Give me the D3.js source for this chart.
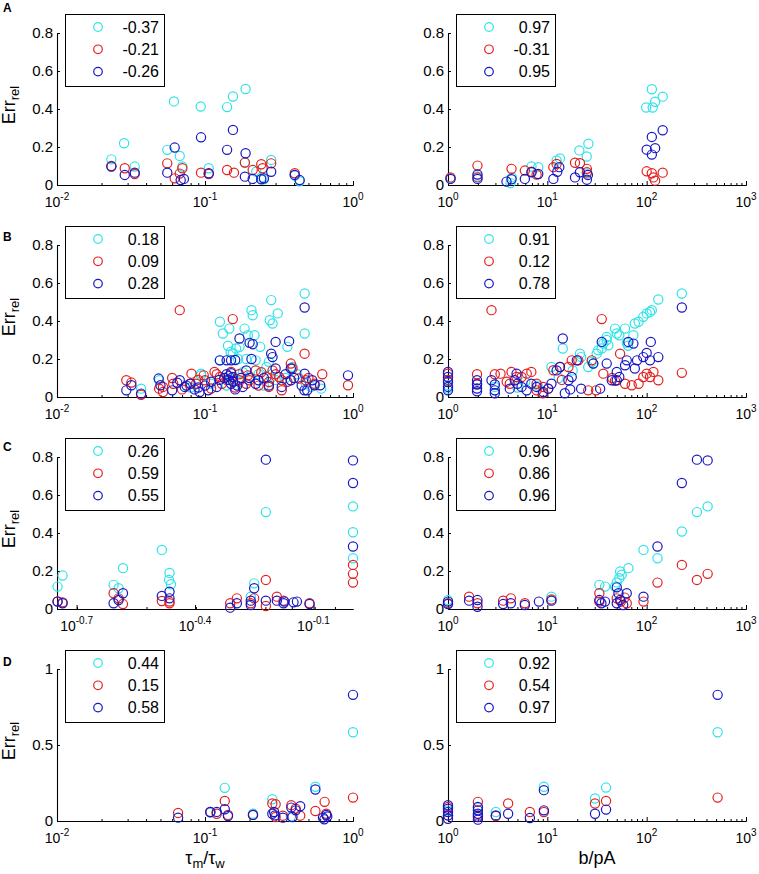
<!DOCTYPE html>
<html>
<head>
<meta charset="utf-8">
<script src="https://cdn.jsdelivr.net/npm/d3@7"></script>
<style>
  body { margin: 0; background: #fff; }
  text { font-family: "Liberation Sans", Arial, Helvetica, sans-serif; }
</style>
</head>
<body>
<svg id="chart" width="759" height="874"></svg>
<script>
// ---- data: [x, y] pairs per series ----
// row A
const aTauCyan = [[0.0233,0.135],[0.0284,0.22],[0.0335,0.097],[0.0556,0.185],[0.0617,0.44],[0.0675,0.153],[0.0703,0.097],[0.0935,0.413],[0.106,0.088],[0.141,0.41],[0.1545,0.466],[0.188,0.505],[0.186,0.118],[0.222,0.07],[0.28,0.132],[0.436,0.02],[0.24,0.04],[0.25,0.03],[0.404,0.05]];
const aTauRed = [[0.0233,0.1],[0.0287,0.088],[0.0335,0.058],[0.0556,0.114],[0.0624,0.035],[0.0675,0.06],[0.0703,0.088],[0.094,0.065],[0.106,0.058],[0.141,0.079],[0.157,0.065],[0.186,0.118],[0.21,0.079],[0.24,0.109],[0.245,0.088],[0.28,0.114],[0.404,0.062]];
const aTauBlue = [[0.0233,0.097],[0.0287,0.053],[0.0335,0.065],[0.0556,0.065],[0.0624,0.197],[0.0685,0.026],[0.072,0.032],[0.094,0.251],[0.106,0.062],[0.141,0.185],[0.1545,0.29],[0.188,0.167],[0.186,0.044],[0.21,0.032],[0.24,0.03],[0.25,0.035],[0.28,0.07],[0.404,0.053],[0.436,0.026]];
const aBCyan = [[1.06,0.035],[1.98,0.045],[4.26,0.01],[4.4,0.04],[6.93,0.097],[8.1,0.094],[12.4,0.129],[13.4,0.14],[21,0.182],[25.9,0.217],[24.9,0.15],[25,0.06],[98.8,0.408],[112.7,0.504],[115,0.408],[121.7,0.438],[145,0.465]];
const aBRed = [[1.06,0.04],[1.98,0.102],[1.98,0.04],[4.36,0.085],[5.94,0.076],[6.93,0.07],[7.8,0.055],[11.5,0.094],[12.4,0.111],[19,0.117],[21.3,0.115],[25,0.085],[25,0.067],[100,0.072],[112.7,0.062],[117,0.04],[121.7,0.023],[145,0.065]];
const aBBlue = [[1.06,0.032],[1.98,0.055],[1.98,0.032],[3.88,0.018],[4.36,0.03],[5.94,0.032],[6.93,0.067],[8.1,0.058],[11.5,0.032],[12.6,0.07],[13.2,0.094],[19,0.04],[21.3,0.067],[25,0.028],[25.6,0.053],[100,0.186],[112.7,0.253],[121.7,0.194],[112.7,0.16],[145,0.288]];
// row B
const bTauCyan = [[0.037,0.044],[0.094,0.114],[0.126,0.396],[0.132,0.334],[0.146,0.36],[0.143,0.27],[0.154,0.228],[0.162,0.255],[0.167,0.2],[0.185,0.36],[0.195,0.325],[0.206,0.457],[0.21,0.43],[0.216,0.325],[0.236,0.264],[0.26,0.158],[0.28,0.51],[0.274,0.404],[0.286,0.387],[0.31,0.44],[0.36,0.264],[0.39,0.158],[0.471,0.545],[0.471,0.334],[0.52,0.053],[0.61,0.044],[0.149,0.237],[0.171,0.264],[0.22,0.193],[0.27,0.185],[0.126,0.193],[0.049,0.088],[0.48,0.07],[0.094,0.123],[0.3,0.09],[0.2,0.11],[0.17,0.08],[0.14,0.06],[0.11,0.07],[0.08,0.05],[0.25,0.06],[0.35,0.1],[0.42,0.12],[0.15,0.1],[0.18,0.13],[0.19,0.2],[0.23,0.12],[0.28,0.1]];
const bTauRed = [[0.0294,0.088],[0.0318,0.076],[0.037,0.012],[0.049,0.044],[0.052,0.026],[0.0675,0.457],[0.061,0.07],[0.081,0.123],[0.098,0.114],[0.126,0.105],[0.154,0.41],[0.171,0.088],[0.22,0.14],[0.26,0.105],[0.286,0.14],[0.317,0.105],[0.38,0.176],[0.39,0.15],[0.471,0.228],[0.48,0.088],[0.55,0.07],[0.62,0.12],[0.925,0.062],[0.087,0.07],[0.27,0.053],[0.33,0.035],[0.116,0.132],[0.15,0.132],[0.195,0.114],[0.052,0.053],[0.079,0.07],[0.1,0.088],[0.2,0.088],[0.27,0.079],[0.33,0.088],[0.43,0.097],[0.13,0.07],[0.16,0.05],[0.07,0.04],[0.11,0.045],[0.23,0.06],[0.06,0.1],[0.09,0.09],[0.12,0.12],[0.14,0.09],[0.17,0.12],[0.19,0.07],[0.24,0.13],[0.3,0.12],[0.36,0.08],[0.5,0.1]];
const bTauBlue = [[0.0294,0.035],[0.0318,0.062],[0.037,0.018],[0.0486,0.097],[0.05,0.062],[0.06,0.035],[0.0675,0.088],[0.073,0.053],[0.092,0.026],[0.126,0.193],[0.14,0.193],[0.15,0.193],[0.16,0.195],[0.171,0.308],[0.2,0.285],[0.21,0.278],[0.206,0.2],[0.28,0.228],[0.286,0.21],[0.3,0.29],[0.37,0.294],[0.38,0.15],[0.471,0.471],[0.471,0.123],[0.49,0.035],[0.925,0.114],[0.55,0.062],[0.33,0.053],[0.154,0.105],[0.145,0.09],[0.15,0.07],[0.19,0.14],[0.3,0.15],[0.38,0.088],[0.47,0.035],[0.53,0.088],[0.6,0.062],[0.18,0.053],[0.23,0.088],[0.12,0.053],[0.105,0.035],[0.085,0.04],[0.08,0.07],[0.14,0.12],[0.16,0.04],[0.25,0.1],[0.065,0.075],[0.075,0.06],[0.09,0.05],[0.1,0.06],[0.11,0.08],[0.125,0.09],[0.135,0.1],[0.145,0.11],[0.15,0.125],[0.155,0.08],[0.165,0.06],[0.175,0.1],[0.2,0.1],[0.22,0.07],[0.27,0.06],[0.35,0.12],[0.4,0.1],[0.45,0.06]];
const bBCyan = [[1,0.044],[1,0.062],[1.96,0.07],[2.96,0.053],[11,0.158],[14.3,0.255],[21.3,0.228],[21.9,0.21],[25.8,0.158],[29,0.176],[31.4,0.228],[32.5,0.246],[35.3,0.255],[36.6,0.281],[39.6,0.3],[41.1,0.272],[48,0.36],[50,0.334],[53,0.325],[60.6,0.36],[63,0.285],[73.5,0.325],[76,0.387],[83,0.396],[92.5,0.422],[100,0.44],[108,0.448],[112.7,0.457],[131,0.513],[226,0.545],[28,0.185],[39.6,0.316],[65,0.27],[18,0.14],[8,0.06],[5,0.05],[13,0.1],[6,0.08]];
const bBRed = [[1,0.123],[1,0.09],[1.96,0.12],[1.96,0.07],[2.74,0.457],[2.96,0.12],[3.38,0.123],[4.19,0.07],[4.9,0.105],[5.5,0.105],[6.2,0.123],[6.9,0.132],[7.8,0.07],[9.1,0.053],[10.2,0.044],[11.5,0.141],[13.4,0.158],[16.3,0.158],[17.6,0.193],[20.5,0.193],[28,0.193],[31,0.035],[35.3,0.41],[36.6,0.123],[54,0.228],[60.6,0.07],[70.7,0.062],[83,0.07],[92.5,0.105],[100,0.123],[108,0.105],[117,0.132],[131,0.088],[226,0.127],[4.36,0.132],[7.8,0.035],[9,0.02],[25.8,0.035],[45,0.1],[48,0.085],[3.9,0.08],[14,0.09]];
const bBBlue = [[1,0.132],[1,0.105],[1,0.079],[1,0.053],[1,0.035],[1.96,0.088],[1.96,0.066],[1.96,0.045],[1.96,0.03],[2.74,0.088],[2.96,0.066],[2.96,0.035],[2.96,0.02],[4.19,0.044],[4.7,0.088],[4.9,0.123],[5,0.07],[5.5,0.053],[6.2,0.035],[6.9,0.07],[7.8,0.053],[9.1,0.026],[10.2,0.044],[11,0.07],[12.4,0.14],[13.4,0.158],[14.3,0.308],[16.3,0.088],[17.6,0.105],[19.8,0.193],[21.9,0.044],[29,0.176],[34,0.044],[35.3,0.29],[39.6,0.176],[44.5,0.088],[50,0.088],[50,0.132],[53,0.105],[60.6,0.167],[63,0.193],[65.4,0.29],[73.5,0.281],[76,0.15],[80,0.193],[92.5,0.21],[100,0.232],[110,0.29],[108,0.193],[131,0.21],[226,0.471],[17,0.04],[15,0.02]];
// row C
const cTauCyan = [[0.1786,0.118],[0.1839,0.176],[0.2476,0.127],[0.2549,0.109],[0.2615,0.215],[0.328,0.311],[0.343,0.19],[0.342,0.153],[0.346,0.13],[0.551,0.065],[0.562,0.135],[0.6016,0.51],[1,0.54],[1,0.404],[1,0.267]];
const cTauRed = [[0.1786,0.04],[0.1839,0.035],[0.2476,0.083],[0.2549,0.056],[0.2615,0.026],[0.328,0.042],[0.343,0.039],[0.343,0.03],[0.4887,0.03],[0.508,0.056],[0.551,0.03],[0.562,0.056],[0.6016,0.153],[0.6016,0.016],[0.6415,0.065],[0.667,0.044],[0.7762,0.03],[1,0.232],[1,0.185],[1,0.139]];
const cTauBlue = [[0.1786,0.039],[0.1839,0.03],[0.2476,0.03],[0.2549,0.047],[0.2615,0.083],[0.328,0.069],[0.343,0.091],[0.343,0.056],[0.4887,0.007],[0.508,0.03],[0.551,0.044],[0.551,0.021],[0.562,0.109],[0.6016,0.786],[0.6016,0.044],[0.6415,0.044],[0.667,0.03],[0.67,0.039],[0.7068,0.035],[0.7211,0.039],[0.7762,0.026],[1,0.782],[1,0.663],[1,0.329]];
const cBCyan = [[1,0.047],[11,0.065],[33.4,0.127],[38.1,0.118],[48,0.118],[50,0.14],[53,0.162],[54,0.197],[56,0.18],[65.5,0.215],[92.9,0.311],[128.5,0.267],[226,0.408],[320.6,0.51],[411,0.54]];
const cBRed = [[1,0.03],[1.63,0.065],[1.98,0.03],[3.59,0.044],[4.29,0.056],[5.94,0.03],[11,0.05],[33.4,0.083],[33.4,0.039],[50,0.056],[55,0.039],[60,0.06],[63,0.03],[92.9,0.039],[128.5,0.139],[226,0.232],[320.6,0.153],[411,0.185]];
const cBBlue = [[1,0.039],[1,0.026],[1.63,0.044],[1.98,0.047],[1.98,0.012],[3.59,0.026],[4.29,0.03],[5.94,0.021],[8.22,0.039],[11,0.044],[33.4,0.047],[35,0.03],[38.1,0.039],[50,0.114],[52,0.083],[50,0.03],[54,0.047],[58,0.021],[63,0.083],[92.9,0.065],[128.5,0.329],[226,0.663],[320.6,0.786],[411,0.782]];
// row D
const dTauCyan = [[0.1086,0.055],[0.136,0.218],[0.211,0.048],[0.285,0.143],[0.38,0.03],[0.557,0.225],[1,0.584]];
const dTauRed = [[0.0658,0.053],[0.1086,0.059],[0.136,0.132],[0.12,0.048],[0.143,0.04],[0.211,0.04],[0.285,0.115],[0.3,0.11],[0.3,0.026],[0.336,0.035],[0.383,0.104],[0.41,0.081],[0.44,0.035],[0.557,0.066],[0.643,0.126],[0.66,0.048],[1,0.154]];
const dTauBlue = [[0.0658,0.022],[0.1086,0.059],[0.12,0.06],[0.136,0.077],[0.143,0.033],[0.211,0.04],[0.285,0.048],[0.297,0.037],[0.293,0.059],[0.336,0.022],[0.383,0.088],[0.39,0.026],[0.41,0.07],[0.44,0.097],[0.557,0.207],[0.627,0.022],[0.64,0.011],[0.66,0.04],[0.67,0.03],[1,0.83]];
const dBCyan = [[1,0.07],[2,0.085],[3.03,0.059],[9.23,0.225],[30.2,0.148],[39,0.22],[518,0.584]];
const dBRed = [[1,0.092],[1,0.037],[2,0.126],[2,0.037],[3.03,0.033],[4.03,0.115],[6.67,0.059],[9.23,0.059],[30.2,0.115],[39,0.132],[518,0.154]];
const dBBlue = [[1,0.104],[1,0.081],[1,0.059],[1,0.037],[1,0.015],[2,0.092],[2,0.07],[2,0.048],[2,0.026],[2,0.009],[3.03,0.037],[4.03,0.048],[6.67,0.02],[9.23,0.203],[9.23,0.07],[30.2,0.048],[39,0.075],[518,0.83]];

// legend labels (correlation coefficients)
const legA1 = ["-0.37", "-0.21", "-0.26"];
const legA2 = ["0.97", "-0.31", "0.95"];
const legB1 = ["0.18", "0.09", "0.28"];
const legB2 = ["0.91", "0.12", "0.78"];
const legC1 = ["0.26", "0.59", "0.55"];
const legC2 = ["0.96", "0.86", "0.96"];
const legD1 = ["0.44", "0.15", "0.58"];
const legD2 = ["0.92", "0.54", "0.97"];

// ticks
const yTicks08 = [0, 0.2, 0.4, 0.6, 0.8];
const yTicks1 = [0, 0.5, 1];
const tauTicks = [0.01, 0.1, 1];
const tauTickExp = ["-2", "-1", "0"];
const tauTicksC = [Math.pow(10, -0.7), Math.pow(10, -0.4), Math.pow(10, -0.1)];
const tauTickExpC = ["-0.7", "-0.4", "-0.1"];
const bTicks = [1, 10, 100, 1000];
const bTickExp = ["0", "1", "2", "3"];
const rowLetters = ["A", "B", "C", "D"];

const colors = ["#2ee3ea", "#e3201f", "#1717c4"];

// ---- layout ----
const svg = d3.select("#chart");
const cols = [{ x0: 57, x1: 353 }, { x0: 448, x1: 746 }];
const rows = [
  { top: 33, bottom: 185, letterY: 12 },
  { top: 245, bottom: 397, letterY: 241 },
  { top: 457, bottom: 609, letterY: 451 },
  { top: 669, bottom: 821, letterY: 666 },
];

const panels = [
  { row: 0, col: 0, series: [aTauCyan, aTauRed, aTauBlue], legend: legA1, xDomain: [0.01, 1], xTicks: tauTicks, xExp: tauTickExp, yMax: 0.8, yTicks: yTicks08 },
  { row: 0, col: 1, series: [aBCyan, aBRed, aBBlue], legend: legA2, xDomain: [1, 1000], xTicks: bTicks, xExp: bTickExp, yMax: 0.8, yTicks: yTicks08 },
  { row: 1, col: 0, series: [bTauCyan, bTauRed, bTauBlue], legend: legB1, xDomain: [0.01, 1], xTicks: tauTicks, xExp: tauTickExp, yMax: 0.8, yTicks: yTicks08 },
  { row: 1, col: 1, series: [bBCyan, bBRed, bBBlue], legend: legB2, xDomain: [1, 1000], xTicks: bTicks, xExp: bTickExp, yMax: 0.8, yTicks: yTicks08 },
  { row: 2, col: 0, series: [cTauCyan, cTauRed, cTauBlue], legend: legC1, xDomain: [0.178, 1], xTicks: tauTicksC, xExp: tauTickExpC, yMax: 0.8, yTicks: yTicks08 },
  { row: 2, col: 1, series: [cBCyan, cBRed, cBBlue], legend: legC2, xDomain: [1, 1000], xTicks: bTicks, xExp: bTickExp, yMax: 0.8, yTicks: yTicks08 },
  { row: 3, col: 0, series: [dTauCyan, dTauRed, dTauBlue], legend: legD1, xDomain: [0.01, 1], xTicks: tauTicks, xExp: tauTickExp, yMax: 1, yTicks: yTicks1 },
  { row: 3, col: 1, series: [dBCyan, dBRed, dBBlue], legend: legD2, xDomain: [1, 1000], xTicks: bTicks, xExp: bTickExp, yMax: 1, yTicks: yTicks1 },
];

// log minor ticks 2..9 x 10^k inside the domain
function minorTicks(domain) {
  const out = [];
  for (let k = -3; k <= 3; k++) {
    for (let m = 2; m <= 9; m++) {
      const v = m * Math.pow(10, k);
      if (v >= domain[0] && v <= domain[1]) out.push(v);
    }
  }
  return out;
}

function styleAxis(g) {
  g.selectAll("path.domain").attr("stroke", "#000").attr("stroke-width", 1.1);
  g.selectAll(".tick line").attr("stroke", "#000");
}

function drawPanel(p) {
  const c = cols[p.col];
  const r = rows[p.row];
  const g = svg.append("g");

  const x = d3.scaleLog().domain(p.xDomain).range([c.x0, c.x1]);
  const y = d3.scaleLinear().domain([0, p.yMax]).range([r.bottom, r.top]);

  // x axis: minor + major ticks pointing inward
  g.append("g")
    .attr("transform", `translate(0,${r.bottom})`)
    .call(d3.axisBottom(x).tickValues(minorTicks(p.xDomain)).tickSize(-2).tickSizeOuter(0).tickFormat(""))
    .call(styleAxis);
  g.append("g")
    .attr("transform", `translate(0,${r.bottom})`)
    .call(d3.axisBottom(x).tickValues(p.xTicks).tickSize(-4).tickSizeOuter(0).tickFormat(""))
    .call(styleAxis);

  // x tick labels 10^k
  const xl = g.append("g");
  p.xTicks.forEach((t, i) => {
    const txt = xl.append("text")
      .attr("x", x(t))
      .attr("y", r.bottom + 22)
      .attr("text-anchor", "middle")
      .attr("font-size", "14px")
      .attr("fill", "#000");
    txt.append("tspan").text("10");
    txt.append("tspan").attr("dy", -7).attr("font-size", "10px").text(p.xExp[i]);
  });

  // y axis
  const ya = g.append("g")
    .attr("transform", `translate(${c.x0},0)`)
    .call(d3.axisLeft(y).tickValues(p.yTicks).tickSize(-3).tickSizeOuter(0).tickPadding(4).tickFormat((d) => String(d)))
    .call(styleAxis);
  ya.selectAll("text")
    .attr("font-size", "15px")
    .attr("font-family", "'Liberation Sans', Arial, sans-serif")
    .attr("fill", "#000");

  // markers: cyan, red, blue (blue drawn last)
  p.series.forEach((s, i) => {
    g.append("g")
      .selectAll("circle")
      .data(s)
      .join("circle")
      .attr("cx", (d) => x(d[0]))
      .attr("cy", (d) => y(d[1]))
      .attr("r", 4.6)
      .attr("fill", "none")
      .attr("stroke", colors[i])
      .attr("stroke-width", 1.2);
  });

  // legend
  const lx = c.x0 + 8;
  const ly = r.top - 19;
  const lw = 99;
  const lg = g.append("g");
  lg.append("rect")
    .attr("x", lx + 0.5)
    .attr("y", ly + 0.5)
    .attr("width", lw)
    .attr("height", 72)
    .attr("fill", "#fff")
    .attr("stroke", "#000")
    .attr("stroke-width", 1);
  p.legend.forEach((lab, i) => {
    const cy = ly + 13 + i * 22.3;
    lg.append("circle")
      .attr("cx", lx + 33)
      .attr("cy", cy)
      .attr("r", 4.3)
      .attr("fill", "none")
      .attr("stroke", colors[i])
      .attr("stroke-width", 1.2);
    lg.append("text")
      .attr("x", lx + lw - 5)
      .attr("y", cy)
      .attr("dy", "0.36em")
      .attr("text-anchor", "end")
      .attr("font-size", "16px")
      .attr("fill", "#000")
      .text(lab);
  });

  // y label and row letter on the left column
  if (p.col === 0) {
    const mid = (r.top + r.bottom) / 2 - 4;
    const yl = g.append("text")
      .attr("transform", `translate(15,${mid}) rotate(-90)`)
      .attr("text-anchor", "middle")
      .attr("font-size", "18px")
      .attr("fill", "#000");
    yl.append("tspan").text("Err");
    yl.append("tspan").attr("dy", 4).attr("font-size", "13px").text("rel");

    g.append("text")
      .attr("x", 3)
      .attr("y", r.letterY)
      .attr("font-size", "12px")
      .attr("font-weight", "bold")
      .attr("fill", "#000")
      .text(rowLetters[p.row]);
  }

  // x labels on the bottom row
  if (p.row === 3) {
    const xt = g.append("text")
      .attr("x", (c.x0 + c.x1) / 2)
      .attr("y", 864)
      .attr("text-anchor", "middle")
      .attr("font-size", "18px")
      .attr("fill", "#000");
    if (p.col === 0) {
      xt.append("tspan").text("\u03c4");
      xt.append("tspan").attr("dy", 4).attr("font-size", "13px").text("m");
      xt.append("tspan").attr("dy", -4).text("/\u03c4");
      xt.append("tspan").attr("dy", 4).attr("font-size", "13px").text("w");
    } else {
      xt.text("b/pA");
    }
  }
}

panels.forEach(drawPanel);
</script>
</body>
</html>
